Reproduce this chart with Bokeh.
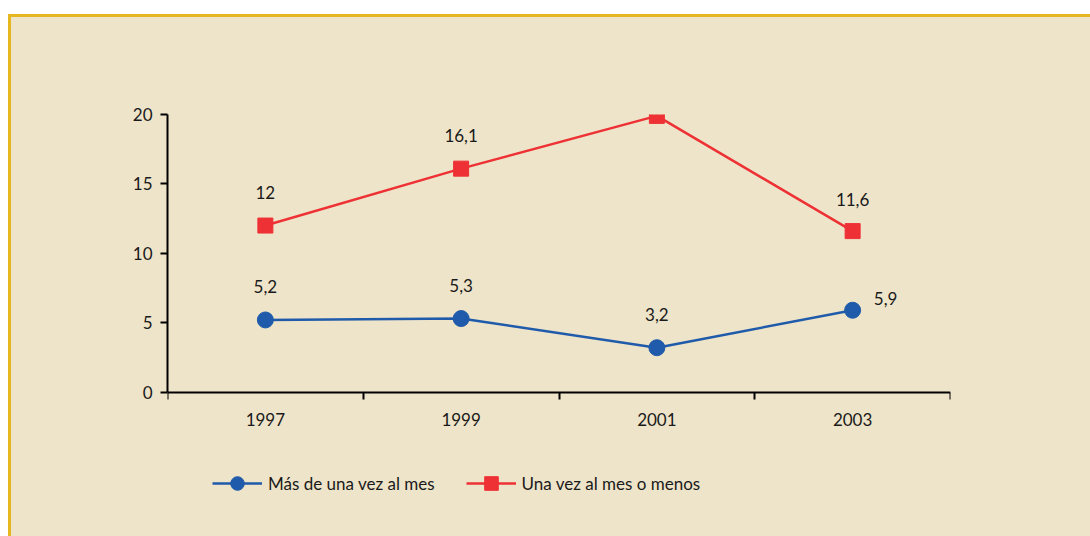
from bokeh.plotting import figure
from bokeh.models import (FixedTicker, Legend, LegendItem, ColumnDataSource, LabelSet, LinearAxis)
from bokeh.core.properties import value
from bokeh.embed import file_html
from bokeh.resources import INLINE

years = ["1997", "1999", "2001", "2003"]
mas_una_vez = [5.2, 5.3, 3.2, 5.9]
una_vez = [12, 16.1, 19.9, 11.6]
mas_labels = ["5,2", "5,3", "3,2", "5,9"]
una_labels = ["12", "16,1", "19,9", "11,6"]

# label offsets (style)
mas_dx = [0, 0, 0, 33]
mas_dy = [33, 33, 33, 12]
una_dx = [0, 0, 0, 0]
una_dy = [33, 33, 22, 32]

BG = "#EEE4C9"
GOLD = "#E6B71E"
BLUE = "#1F5BAA"
RED = "#EE3135"
FONT = "Lato"

xs = [i + 0.5 for i in range(len(years))]

# frame extends below the x axis so the legend can sit in it
Y_BOTTOM = -10.4

p = figure(width=1082, height=525, output_backend="svg", toolbar_location=None,
           x_range=(0, len(years)), y_range=(Y_BOTTOM, 20),
           x_axis_location=None,
           min_border_left=156, min_border_right=143, min_border_top=97, min_border_bottom=6)
p.styles = {"border-top": f"3px solid {GOLD}", "border-left": f"3px solid {GOLD}",
            "transform": "translate(8px, 14px)", "background-color": BG}
p.background_fill_color = BG
p.border_fill_color = BG
p.outline_line_color = None
p.grid.visible = False

src_b = ColumnDataSource(dict(x=xs, y=mas_una_vez, t=mas_labels, dx=mas_dx, dy=mas_dy))
src_r = ColumnDataSource(dict(x=xs, y=una_vez, t=una_labels, dx=una_dx, dy=una_dy))

lb = p.line("x", "y", source=src_b, line_color=BLUE, line_width=2.5)
cb = p.scatter("x", "y", source=src_b, marker="circle", size=16, fill_color=BLUE, line_color=BLUE)
lr = p.line("x", "y", source=src_r, line_color=RED, line_width=2.5)
sr = p.scatter("x", "y", source=src_r, marker="square", size=15, fill_color=RED, line_color=RED)

for src in (src_b, src_r):
    p.add_layout(LabelSet(x="x", y="y", text="t", x_offset="dx", y_offset="dy", source=src,
                          text_align="center", text_baseline="middle",
                          text_font=value(FONT), text_font_size=value("17px"),
                          text_color="#1a1a1a"))

# y axis
p.yaxis.ticker = FixedTicker(ticks=[0, 5, 10, 15, 20])
p.yaxis.bounds = (0, 20)
p.yaxis.axis_line_width = 2
p.yaxis.major_tick_line_width = 2
p.yaxis.major_tick_out = 7
p.yaxis.major_tick_in = 0
p.yaxis.minor_tick_line_color = None
p.yaxis.major_label_text_font = FONT
p.yaxis.major_label_text_font_size = "17px"
p.yaxis.major_label_text_color = "#1a1a1a"
p.yaxis.major_label_standoff = 8

# x axis, drawn at y = 0 inside the frame
xaxis = LinearAxis(fixed_location=0)
xaxis.ticker = FixedTicker(ticks=xs, minor_ticks=list(range(len(years) + 1)))
xaxis.major_label_overrides = {x: y for x, y in zip(xs, years)}
xaxis.axis_line_width = 2
xaxis.major_tick_out = 0
xaxis.major_tick_in = 0
xaxis.minor_tick_out = 7
xaxis.minor_tick_in = 0
xaxis.minor_tick_line_width = 2
xaxis.minor_tick_line_color = "black"
xaxis.major_label_text_font = FONT
xaxis.major_label_text_font_size = "17px"
xaxis.major_label_text_color = "#1a1a1a"
xaxis.major_label_standoff = 14
p.add_layout(xaxis, "below")

legend = Legend(items=[LegendItem(label="Más de una vez al mes", renderers=[lb, cb]),
                       LegendItem(label="Una vez al mes o menos", renderers=[lr, sr])],
                orientation="horizontal", location=(45, 36),
                background_fill_alpha=0, border_line_color=None,
                label_text_font=FONT, label_text_font_size="17px", label_text_color="#1a1a1a",
                glyph_width=50, glyph_height=34, spacing=31, padding=0,
                margin=0, label_standoff=6)
p.add_layout(legend, "center")

open("out.html", "w").write(file_html(p, INLINE))
